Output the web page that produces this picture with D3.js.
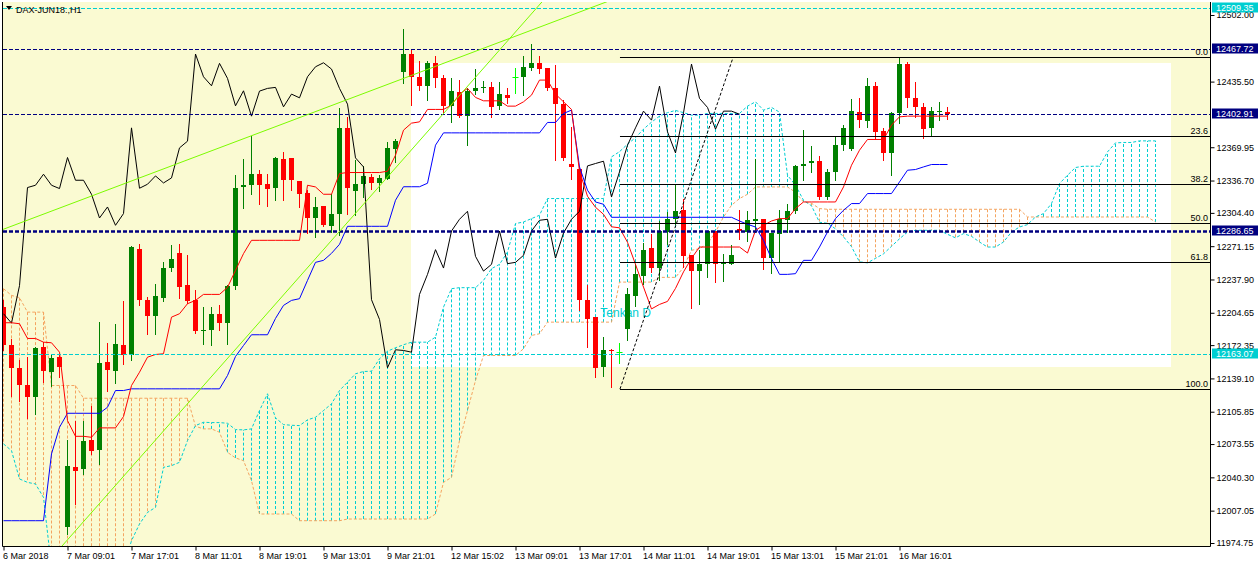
<!DOCTYPE html>
<html>
<head>
<meta charset="utf-8">
<script src="https://cdn.jsdelivr.net/npm/d3@7"></script>
<style>
  body { margin: 0; background: #fff; }
  text { font-family: "Liberation Sans", Arial, sans-serif; }
</style>
</head>
<body>
<div id="chart"></div>
<script>
// ---- bars (H1 candles), index 0 = first visible bar
const opens = [12210,12172,12149.3,12133,12121,12170,12146,12160,11990.3,12051,
  12048.7,12078,12068,12155,12147,12172,12162,12268.7,12217,12201,
  12219.3,12249,12264.7,12232,12217,12186.3,12187.7,12203.7,12194.3,12231,
  12330.3,12332,12343,12333.7,12329.3,12358,12359.3,12336.3,12324.3,12299.3,
  12311,12291,12303,12389.3,12326,12333,12340.3,12334.3,12338.7,12368.3,
  12445.3,12462.7,12440.3,12431.3,12453.7,12438.7,12411.3,12425.3,12401,12426,
  12428.7,12429.7,12411,12422,12440.3,12440.3,12449.3,12454.3,12449.3,12428.7,
  12413,12353,12348,12217,12200.3,12150.3,12167.7,12165.3,12188.7,12221,
  12241,12269.3,12249.7,12285.3,12298,12307,12262,12246.3,12253.7,12286.3,
  12253.7,12253.7,12288,12285.3,12296.3,12298,12259.7,12283,12297,12306,
  12351.3,12354.7,12356,12320.3,12345.3,12372,12368,12405.3,12396.3,12431,
  12386.3,12364.3,12403.7,12453,12418.7,12410.3,12389.3,12404.7,12405.3];
const highs = [12217,12178,12157,12160.3,12170,12175.3,12162.7,12163.7,12078,12097,
  12097,12112,12195,12174,12193.7,12216,12271,12273,12220.3,12233,
  12255,12272,12273,12262,12227,12210.3,12210.3,12212,12232,12342.7,
  12358.7,12381.3,12347,12343.7,12360.3,12364.7,12359.3,12336.3,12327,12320.3,
  12311,12323,12408.7,12400.3,12357,12351,12343.7,12342,12375.3,12378,
  12488,12467.7,12456.3,12456.3,12461,12442,12438.7,12437,12428.7,12447.7,
  12436.3,12435.3,12435.3,12428.7,12448.7,12461,12473,12461,12449.3,12452,
  12417,12390.3,12351,12232,12200.3,12180.3,12168.7,12174.3,12229,12253.7,
  12274.3,12283.7,12296.3,12305.3,12333.7,12318.7,12262,12267,12286.3,12286.3,
  12263,12272,12307.7,12306,12358.7,12298,12284.3,12307,12313.7,12352,
  12387,12371,12361,12348.7,12379.7,12392,12418,12418.7,12438.7,12434.7,
  12388.7,12405.3,12459.7,12455.3,12435.3,12413.7,12409.7,12414.7,12409.7];
const lows = [12167,12122,12117,12099.7,12104,12135.3,12132,12140.3,11983.7,12013.7,
  12043.7,12063.7,12053.7,12127,12134.3,12153.7,12157.7,12212,12183,12183,
  12216.3,12246.3,12219.3,12214,12184.3,12173,12172,12187,12173,12228.7,
  12309.7,12323,12313,12311,12317,12317.7,12327,12310.3,12284.3,12280.3,
  12291,12285.3,12282,12303.7,12302,12320.3,12328,12326,12338.7,12355.3,
  12433.7,12412,12427,12417,12430.3,12403.7,12395.3,12399.7,12372,12423,
  12425.3,12400.3,12407.7,12413.7,12424.3,12422,12447,12444.3,12427,12357,
  12357,12338.7,12207,12170.3,12141,12142,12131,12154.3,12177,12211,
  12233.7,12245.3,12237,12273.7,12293.7,12250.3,12209.7,12213.7,12240.3,12235.3,
  12236.3,12253.7,12278.7,12276.3,12285.3,12248.7,12244.3,12255.3,12285.3,12304.3,
  12337,12345.3,12318.7,12318.7,12337,12367,12367,12390.3,12389.7,12377.7,
  12357,12342,12393.7,12410.3,12400.3,12379.3,12381,12397,12397.7];
const closes = [12172,12149.3,12133,12121,12169.3,12147,12159,12150.3,12052,12047,
  12077,12067,12154,12148,12173,12162.7,12270.3,12217,12201,12221,
  12249.7,12258,12230.3,12216,12186.3,12187.7,12203.7,12194.3,12231.7,12329.7,
  12332,12343,12332,12328.7,12359.7,12337,12337,12323,12299.3,12310.3,
  12292,12303.7,12389.3,12329,12333,12341.3,12334.3,12339.3,12369.3,12376,
  12463,12440.3,12431.3,12453.7,12438.7,12411.3,12426.3,12401,12426,12428.7,
  12429.7,12410.3,12423,12419.3,12440.3,12450.3,12454.3,12448,12428.7,12413,
  12359.3,12350.3,12217.7,12198,12149.7,12167.7,12167,12165.3,12223,12243,
  12267.7,12249.3,12286.3,12298,12306,12261,12246.3,12253,12286.3,12253.7,
  12255,12262,12286.3,12297,12298,12259.3,12284.3,12298,12306,12351.3,
  12353.7,12356,12320.3,12345.3,12372,12389.3,12406,12397,12431,12385.3,
  12364.3,12404.3,12453,12418.7,12409.7,12388,12406,12406,12402.91];

// ---- Ichimoku lines
const tenkan = [12194.7,12194.7,12193.7,12179,12179,12175.3,12174.7,12165.3,12097,12081.3,
  12081.3,12080.3,12089.7,12089.7,12089.7,12101,12132,12145.3,12160.3,12163,
  12163.7,12200.3,12203.7,12213.7,12217,12223,12223,12223,12230,12247,
  12263.7,12277,12277,12277,12277,12277,12277,12277,12332,12330.3,
  12323,12323,12343.7,12344.7,12344.7,12344.7,12344.7,12344.7,12346,12362,
  12387,12394,12395.3,12407.7,12407.7,12407.7,12412,12423,12428.7,12419.7,
  12416.3,12416.3,12416.3,12411,12411,12415.3,12422,12437,12437,12423,
  12415.3,12407.7,12346,12321,12310,12303,12290.5,12289.5,12275,12253,
  12230.3,12208.5,12213,12216,12229,12245.5,12259,12270.3,12270.3,12270.3,
  12270.3,12270.3,12270.3,12264.3,12287,12292,12296.3,12298.7,12298.7,12308.7,
  12315.3,12315.3,12315.3,12315.3,12315.3,12330.3,12352,12367,12377.7,12377.7,
  12377.7,12392,12400.3,12401,12401,12401,12401,12401,12401];
const kijun = [11997,11997,11997,11997,11997,11997,12063.7,12090.3,12104.3,12104.3,
  12104.3,12104.3,12104.3,12110.3,12127,12127,12128.7,12128.7,12128.7,12128.7,
  12128.7,12128.7,12128.7,12128.7,12128.7,12128.7,12128.7,12128.7,12142,12161,
  12172,12182.7,12182.7,12182.7,12199,12212,12217,12218.7,12237,12255,
  12257,12264,12273,12291,12291,12291,12291,12291,12291,12317,
  12330.5,12330.5,12330.5,12334,12372,12384.3,12384.3,12384.3,12384.3,12384.3,
  12384.3,12384.3,12384.3,12384.3,12384.3,12384.3,12384.3,12384.3,12394.7,12394.7,
  12403.7,12407,12350.3,12327,12315.3,12313,12300,12300,12300,12300,
  12300,12300,12300,12300,12300,12300,12300,12300,12300,12300,
  12300,12300,12296.3,12293,12290.3,12277,12258.7,12243,12243,12243.7,
  12257,12257,12270.3,12285.3,12298.7,12307,12313.7,12313.7,12323.7,12323.7,
  12323.7,12323.7,12335.3,12347,12347.7,12350.3,12352.7,12352.7,12352.7];
const spanA = [12228.7,12222,12219.7,12205.3,12205.3,12205.3,12132,12132,12132,12132,
  12119.3,12119.3,12119.3,12119.3,12119.3,12119.3,12119.3,12119.3,12119.3,12119.3,
  12119.3,12119.3,12119.3,12119.3,12091.3,12088.7,12088.7,12085.3,12065.3,12059.7,
  12057,12037,12003.7,12003.7,12003.7,12003.7,12003.7,11997,11997,11997,
  11997,11997,11997,11998.7,11998.7,11998.7,11998.7,11998.7,11998.7,11998.7,
  11998.7,11998.7,11998.7,11998.7,12003.7,12035.3,12040.3,12077,12107,12137,
  12162,12162,12162,12162,12162,12168.7,12182,12183.7,12195.3,12195.3,
  12195.3,12195.3,12195.3,12195.3,12195.3,12195.3,12195.3,12235.3,12235.3,12235.3,
  12235.3,12235.3,12240,12240,12240,12250,12267,12268.7,12273.7,12285.3,
  12300.3,12312,12318.7,12323,12330.3,12330.3,12330.3,12330.3,12330.3,12325,
  12315.3,12314,12308.7,12308,12308,12308,12308,12308,12308,12308,
  12308,12308,12308,12308,12308,12308,12308,12308,12308,12308,
  12308,12308,12308,12308,12308,12308,12308,12308,12300.3,12300.3,
  12300.3,12300.3,12300.3,12300.3,12300.3,12300.3,12300.3,12300.3,12300.3,12300.3,
  12300.3,12300.3,12300.3,12300.3,12295.3];
const spanB = [12073.7,12067,12038.7,12035.3,12033.7,12020.3,11950,11950,11950,11950,
  11950,11950,11950,11950,11950,11950,11977,11993.7,12005.3,12010.3,
  12050.3,12052,12055.3,12077,12092,12095.3,12095,12095,12094.3,12088,
  12087.7,12088.7,12107,12123.7,12099.7,12093,12092.3,12092,12097.7,12100.3,
  12107,12113.7,12127,12135.3,12143.7,12146,12146.3,12158.7,12166.3,12169.7,
  12172.7,12175.3,12175.3,12175.3,12180.3,12210.3,12228.7,12229.7,12229.7,12229.7,
  12237,12248.7,12253,12265.3,12293.7,12295.3,12298.7,12302,12318.7,12318.7,
  12318.7,12318.7,12318.7,12318.7,12318.7,12318.7,12360.3,12365.5,12373,12379.5,
  12388,12395,12401,12404.5,12406.7,12404.5,12402,12402,12403.7,12403.7,
  12403.7,12403.7,12403.7,12411,12415.3,12407,12409.7,12405,12342,12332,
  12317,12311.5,12295,12294,12288.5,12280.5,12270.7,12255.5,12254.5,12259,
  12263.5,12271,12278.5,12285.3,12287,12287,12287,12287,12283,12279.5,
  12283.7,12281,12275.3,12270.3,12270.3,12275.3,12285.3,12290.3,12292.7,12300.3,
  12303.7,12313.7,12333.7,12342,12349.7,12351,12351,12351,12365.3,12374.3,
  12374.7,12374.7,12376.3,12376.3,12376.3];
// chikou = close plotted 26 bars back
const chikou = closes.slice(26);

// ---- axes
const priceTicks = [12502.00,12435.50,12369.95,12336.70,12304.40,12271.15,12237.90,
  12204.65,12172.35,12139.10,12105.85,12073.55,12040.30,12007.05,11974.75];
const timeTickBars = [0,8,16,24,32,40,48,56,64,72,80,88,96,104,112];
const timeTickLabels = ["6 Mar 2018","7 Mar 09:01","7 Mar 17:01","8 Mar 11:01","8 Mar 19:01",
  "9 Mar 13:01","9 Mar 21:01","12 Mar 15:02","13 Mar 09:01","13 Mar 17:01",
  "14 Mar 11:01","14 Mar 19:01","15 Mar 13:01","15 Mar 21:01","16 Mar 16:01"];

// ---- chart objects
const hLinePrices = [12509.35, 12467.72, 12402.91, 12286.65, 12163.07];
const fiboLevels = [0, 23.6, 38.2, 50, 61.8, 100];
const fiboHigh = 12459.7, fiboLow = 12128.5;
const fiboBars = [77.06, 91.2];
const trendUpper = [[-0.06, 12287.9], [75.01, 12514]];
const trendLower = [[7.31, 11971.7], [67.19, 12514]];
const boxBars = [50.94, 145.94], boxPrices = [12454.1, 12150.5];
const noteText = "Tenkan D", noteBar = 74.6, notePrice = 12200;
const title = "DAX-JUN18.,H1";

// ---- layout
const W = 1258, H = 567;
const plot = {left: 3, right: 1210, top: 2, bottom: 546};
const bull = "#008000", bear = "#ff0000", doji = "#00ff00";
const cyan = "#00ced1", navy = "#000080", sandy = "#f4a460", lawn = "#7cfc00";

const x = d3.scaleLinear().domain([0, 150]).range([3.5, 1203.5]);
const y = d3.scaleLinear().domain([11974.75, 12502.00]).range([543, 15]);
const crisp = v => Math.round(v) + 0.5;

const svg = d3.select("#chart").append("svg")
    .attr("width", W).attr("height", H);

svg.append("defs").append("clipPath").attr("id", "clip")
  .append("rect")
    .attr("x", plot.left).attr("y", plot.top)
    .attr("width", plot.right - plot.left).attr("height", plot.bottom - plot.top);

svg.append("rect")
    .attr("x", plot.left).attr("y", plot.top)
    .attr("width", plot.right - plot.left).attr("height", plot.bottom - plot.top)
    .attr("fill", "#fafad2");

const g = svg.append("g").attr("clip-path", "url(#clip)");

// white rectangle object
g.append("rect")
    .attr("x", x(boxBars[0])).attr("y", y(boxPrices[0]))
    .attr("width", x(boxBars[1]) - x(boxBars[0]))
    .attr("height", y(boxPrices[1]) - y(boxPrices[0]))
    .attr("fill", "#ffffff");

// text object (sits under the candles)
g.append("text")
    .attr("x", x(noteBar)).attr("y", y(notePrice))
    .attr("fill", cyan).style("font-size", "12px")
    .text(noteText);

// cloud hatch, one dashed stick per bar
g.append("g").selectAll("line")
  .data(spanA.map((a, i) => ({i, a, b: spanB[i]})))
  .join("line")
    .attr("x1", d => x(d.i)).attr("x2", d => x(d.i))
    .attr("y1", d => y(d.a)).attr("y2", d => y(d.b))
    .attr("stroke", d => d.a >= d.b ? sandy : cyan)
    .attr("stroke-dasharray", "3,2");

const lineOf = arr => d3.line().x((d, i) => x(i)).y(d => y(d))(arr);

g.append("path").attr("d", lineOf(spanA))
    .attr("fill", "none").attr("stroke", sandy).attr("stroke-dasharray", "3,2");
g.append("path").attr("d", lineOf(spanB))
    .attr("fill", "none").attr("stroke", cyan).attr("stroke-dasharray", "3,2");

// candles
const bars = g.append("g").selectAll("g")
  .data(opens.map((o, i) => ({i, o, h: highs[i], l: lows[i], c: closes[i]})))
  .join("g");

const colorOf = d => d.c > d.o ? bull : (d.c < d.o ? bear : doji);

bars.append("line")
    .attr("x1", d => x(d.i)).attr("x2", d => x(d.i))
    .attr("y1", d => Math.round(y(d.h))).attr("y2", d => Math.round(y(d.l)) + 1)
    .attr("stroke", colorOf);

bars.filter(d => d.c !== d.o).append("rect")
    .attr("x", d => x(d.i) - 2.5)
    .attr("y", d => Math.round(y(Math.max(d.o, d.c))))
    .attr("width", 5)
    .attr("height", d => Math.max(1, Math.round(y(Math.min(d.o, d.c))) - Math.round(y(Math.max(d.o, d.c)))))
    .attr("fill", colorOf);

bars.filter(d => d.c === d.o).append("line")
    .attr("x1", d => x(d.i) - 3).attr("x2", d => x(d.i) + 3)
    .attr("y1", d => crisp(y(d.o))).attr("y2", d => crisp(y(d.o)))
    .attr("stroke", doji);

// Ichimoku lines
g.append("path").attr("d", lineOf(chikou)).attr("fill", "none").attr("stroke", "#000");
g.append("path").attr("d", lineOf(kijun)).attr("fill", "none").attr("stroke", "#0000ff");
g.append("path").attr("d", lineOf(tenkan)).attr("fill", "none").attr("stroke", bear);

// horizontal lines
const hStyle = [
  {stroke: cyan, w: 1, dash: "4,2"},
  {stroke: navy, w: 1, dash: "4,2"},
  {stroke: navy, w: 1, dash: "4,2"},
  {stroke: navy, w: 2.5, dash: "4,2"},
  {stroke: cyan, w: 1, dash: "4,2"}
];
g.append("g").selectAll("line")
  .data(hLinePrices)
  .join("line")
    .attr("x1", plot.left).attr("x2", plot.right)
    .attr("y1", d => crisp(y(d))).attr("y2", d => crisp(y(d)))
    .attr("stroke", (d, i) => hStyle[i].stroke)
    .attr("stroke-width", (d, i) => hStyle[i].w)
    .attr("stroke-dasharray", (d, i) => hStyle[i].dash);

// trend lines, extended as rays
function ray(pts) {
  const [[b0, p0], [b1, p1]] = pts;
  const slope = (p1 - p0) / (b1 - b0);
  return [[b0, p0], [b1 + 40, p1 + slope * 40]];
}
[trendUpper, trendLower].forEach(t => {
  const r = ray(t);
  g.append("line")
      .attr("x1", x(r[0][0])).attr("y1", y(r[0][1]))
      .attr("x2", x(r[1][0])).attr("y2", y(r[1][1]))
      .attr("stroke", lawn);
});

// fibonacci retracement
const fiboPrice = lv => fiboHigh - (fiboHigh - fiboLow) * lv / 100;
g.append("line")
    .attr("x1", x(fiboBars[0])).attr("y1", y(fiboLow))
    .attr("x2", x(fiboBars[1])).attr("y2", y(fiboHigh))
    .attr("stroke", "#000").attr("stroke-dasharray", "3,2");
const fib = g.append("g").selectAll("g").data(fiboLevels).join("g");
fib.append("line")
    .attr("x1", x(fiboBars[0])).attr("x2", plot.right)
    .attr("y1", d => crisp(y(fiboPrice(d)))).attr("y2", d => crisp(y(fiboPrice(d))))
    .attr("stroke", "#000");
fib.append("text")
    .attr("x", plot.right - 2).attr("y", d => Math.round(y(fiboPrice(d))) - 2)
    .attr("text-anchor", "end").style("font-size", "9px").attr("fill", "#000")
    .text(d => d.toFixed(1));

// frame: left, right and bottom edges
svg.append("path")
    .attr("d", `M${plot.left - 0.5},${plot.top} V${plot.bottom + 0.5} H${plot.right + 0.5} V${plot.top}`)
    .attr("fill", "none").attr("stroke", "#000");

// right price axis
const yAxis = svg.append("g")
    .attr("transform", `translate(${plot.right + 0.5},0)`)
    .call(d3.axisRight(y).tickValues(priceTicks).tickSize(4).tickPadding(2)
      .tickFormat(d3.format(".2f")));
yAxis.select(".domain").remove();
yAxis.selectAll("text").style("font-size", "9px").style("font-family", "Liberation Sans, Arial");

// bottom time axis
const xAxis = svg.append("g")
    .attr("transform", `translate(0,${plot.bottom + 0.5})`)
    .call(d3.axisBottom(x).tickValues(timeTickBars).tickSize(4).tickPadding(2)
      .tickFormat((d, i) => timeTickLabels[i]));
xAxis.select(".domain").remove();
xAxis.selectAll("text").attr("text-anchor", "start").attr("x", -1)
    .style("font-size", "9px").style("font-family", "Liberation Sans, Arial");

// price label boxes
const boxColors = [cyan, navy, navy, navy, cyan];
const tags = svg.append("g").selectAll("g").data(hLinePrices).join("g");
tags.append("rect")
    .attr("x", plot.right + 2).attr("y", d => Math.round(y(d)) - 5.5)
    .attr("width", W - plot.right - 2).attr("height", 10)
    .attr("fill", (d, i) => boxColors[i]);
tags.append("text")
    .attr("x", plot.right + 6).attr("y", d => Math.round(y(d)) + 3)
    .attr("fill", "#fff").style("font-size", "9px")
    .text(d => d.toFixed(2));

// title
svg.append("path").attr("d", "M6,6 L12,6 L9,10 Z").attr("fill", "#000");
svg.append("text").attr("x", 16).attr("y", 13)
    .style("font-size", "9px").attr("fill", "#000").text(title);
</script>
</body>
</html>
